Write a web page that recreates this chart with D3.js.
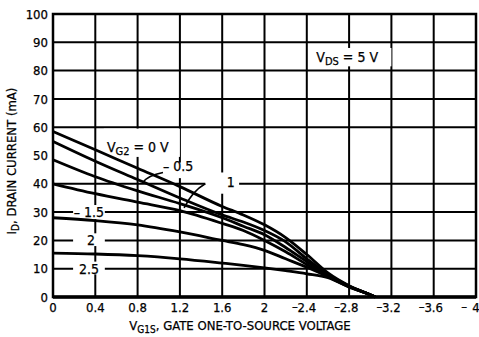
<!DOCTYPE html>
<html>
<head>
<meta charset="utf-8">
<script src="https://cdn.jsdelivr.net/npm/d3@7"></script>
<style>
body { margin: 0; background: #fff; }
text { font-family: "Liberation Sans Narrow", "DejaVu Sans Condensed", sans-serif; fill: #000; stroke: #000; stroke-width: 0.25; }
</style>
</head>
<body>
<script>
// gate 1 to source voltage (V) and drain current (mA) for each VG2
var vg1s   = [0, -0.4, -0.8, -1.2, -1.6, -1.8, -2.0, -2.2, -2.4, -2.6, -2.8, -3.0, -3.05];
var idVg0  = [58.5, 52, 45.5, 39, 32, 29, 25.5, 21, 15, 8.5, 4, 0.8, 0];
var idVg05 = [55, 48, 41.5, 35, 29, 26.5, 23.5, 19.5, 13.5, 8, 3.9, 0.8, 0];
var idVg1  = [48.5, 42.5, 37.5, 33, 28, 25, 22, 17.5, 12.5, 7.8, 3.8, 0.8, 0];
var idVg15 = [40, 36.5, 33.5, 30.5, 26, 23.5, 20, 16, 11.5, 7.5, 3.7, 0.8, 0];
var idVg2  = [28, 27, 25.5, 23, 20, 18.5, 16.5, 13.5, 10.5, 7.2, 3.6, 0.8, 0];
var idVg25 = [15.5, 15.2, 14.6, 13.5, 12, 11.2, 10.3, 9.3, 8.2, 6.8, 3.5, 0.8, 0];

var xTicks = [0, -0.4, -0.8, -1.2, -1.6, -2, -2.4, -2.8, -3.2, -3.6, -4];
var xTickLabels = ["0", "0.4", "0.8", "1.2", "1.6", "2", "2.4", "2.8", "3.2", "3.6", "4"];
var yTicks = [0, 10, 20, 30, 40, 50, 60, 70, 80, 90, 100];

var w = 479, h = 337;

var svg = d3.select("body").append("svg")
    .attr("width", w)
    .attr("height", h);

var x = d3.scaleLinear().domain([0, -4]).range([53, 476]);
var y = d3.scaleLinear().domain([0, 100]).range([297, 14]);

// grid
var grid = svg.append("g").attr("stroke", "#000").attr("stroke-width", 2);
grid.selectAll("line.v")
    .data(xTicks)
  .enter().append("line")
    .attr("x1", function(d) { return x(d); })
    .attr("x2", function(d) { return x(d); })
    .attr("y1", y(0))
    .attr("y2", y(100));
grid.selectAll("line.h")
    .data(yTicks.filter(function(d) { return d != 50; }))
  .enter().append("line")
    .attr("x1", x(0))
    .attr("x2", x(-4))
    .attr("y1", function(d) { return y(d); })
    .attr("y2", function(d) { return y(d); });

// white boxes where the labels cut the grid (data units)
var boxes = [
  [-0.48, -1.2, 59.5, 49.5],
  [-1.01, -1.31, 47.5, 42],
  [-1.44, -1.76, 44, 36.5],
  [-0.19, -0.49, 32.5, 27.5],
  [-0.19, -0.49, 22.5, 18],
  [-0.19, -0.49, 12.5, 8],
  [-2.45, -3.2, 88, 81.5]
];
svg.append("g").selectAll("rect")
    .data(boxes)
  .enter().append("rect")
    .attr("x", function(d) { return x(d[0]); })
    .attr("y", function(d) { return y(d[2]); })
    .attr("width", function(d) { return x(d[1]) - x(d[0]); })
    .attr("height", function(d) { return y(d[3]) - y(d[2]); })
    .attr("fill", "#fff");

// curves
var series = [idVg0, idVg05, idVg1, idVg15, idVg2, idVg25];
var line = d3.line()
    .x(function(d, i) { return x(vg1s[i]); })
    .y(function(d) { return y(d); })
    .curve(d3.curveMonotoneX);

svg.append("g").selectAll("path")
    .data(series)
  .enter().append("path")
    .attr("d", line)
    .attr("fill", "none")
    .attr("stroke", "#000")
    .attr("stroke-width", 2.8);

// leaders
var leaders = [
  [[-1.04, 44], [-0.9, 43], [-0.85, 40.5]],
  [[-1.44, 40], [-1.32, 37.5], [-1.24, 31.5]]
];
svg.append("g").selectAll("path")
    .data(leaders)
  .enter().append("path")
    .attr("d", function(d) {
      return "M" + x(d[0][0]) + "," + y(d[0][1]) + "Q" + x(d[1][0]) + "," + y(d[1][1]) + " " + x(d[2][0]) + "," + y(d[2][1]);
    })
    .attr("fill", "none")
    .attr("stroke", "#000")
    .attr("stroke-width", 1.6);

// frame
svg.append("rect")
    .attr("x", x(0))
    .attr("y", y(100))
    .attr("width", x(-4) - x(0))
    .attr("height", y(0) - y(100))
    .attr("fill", "none")
    .attr("stroke", "#000")
    .attr("stroke-width", 2.5);
svg.append("line")
    .attr("x1", x(0)).attr("x2", x(-4))
    .attr("y1", y(0)).attr("y2", y(0))
    .attr("stroke", "#000")
    .attr("stroke-width", 3.5);

// tick labels
svg.append("g").selectAll("text")
    .data(yTicks)
  .enter().append("text")
    .attr("x", x(0) - 5)
    .attr("y", function(d) { return y(d); })
    .attr("dy", "0.36em")
    .attr("text-anchor", "end")
    .attr("font-size", 13)
    .text(function(d) { return d; });

var xl = svg.append("g").selectAll("g")
    .data(xTicks)
  .enter().append("g");
xl.append("text")
    .attr("x", function(d) { return x(d); })
    .attr("y", 312)
    .attr("text-anchor", "middle")
    .attr("font-size", 13)
    .text(function(d, i) { return xTickLabels[i]; });
xl.filter(function(d) { return d < -2.2; }).append("text")
    .attr("x", function(d) { return x(d) - 9; })
    .attr("y", 311)
    .attr("text-anchor", "end")
    .attr("font-size", 13)
    .text("\u2013");

// axis titles
var yt = svg.append("text")
    .attr("transform", "translate(16,161) rotate(-90)")
    .attr("text-anchor", "middle")
    .attr("font-size", 13);
yt.append("tspan").text("I");
yt.append("tspan").attr("font-size", 10).attr("dy", 3).text("D");
yt.append("tspan").attr("dy", -3).text(", DRAIN CURRENT (mA)");

var xt = svg.append("text")
    .attr("x", 240)
    .attr("y", 330)
    .attr("text-anchor", "middle")
    .attr("font-size", 13);
xt.append("tspan").text("V");
xt.append("tspan").attr("font-size", 10).attr("dy", 3).text("G1S");
xt.append("tspan").attr("dy", -3).text(", GATE ONE-TO-SOURCE VOLTAGE");

// in-plot labels
function subLabel(px, py, main, sub, rest) {
  var t = svg.append("text")
      .attr("x", px)
      .attr("y", py)
      .attr("font-size", 14);
  t.append("tspan").text(main);
  t.append("tspan").attr("font-size", 11).attr("dy", 3).text(sub);
  t.append("tspan").attr("dy", -3).text(rest);
}
subLabel(x(-0.51), y(51.2), "V", "G2", " = 0 V");
subLabel(x(-2.49), y(83.2), "V", "DS", " = 5 V");

var vgLabels = [
  {v: -1.04, i: 44.5, t: "\u2013 0.5"},
  {v: -1.68, i: 38.8, t: "1"},
  {v: -0.34, i: 28.3, t: "\u2013 1.5"},
  {v: -0.36, i: 18.3, t: "2"},
  {v: -0.34, i: 8.3, t: "2.5"}
];
svg.append("g").selectAll("text")
    .data(vgLabels)
  .enter().append("text")
    .attr("x", function(d) { return x(d.v); })
    .attr("y", function(d) { return y(d.i); })
    .attr("text-anchor", function(d) { return d.i > 40 ? "start" : "middle"; })
    .attr("font-size", 14)
    .text(function(d) { return d.t; });
</script>
</body>
</html>
